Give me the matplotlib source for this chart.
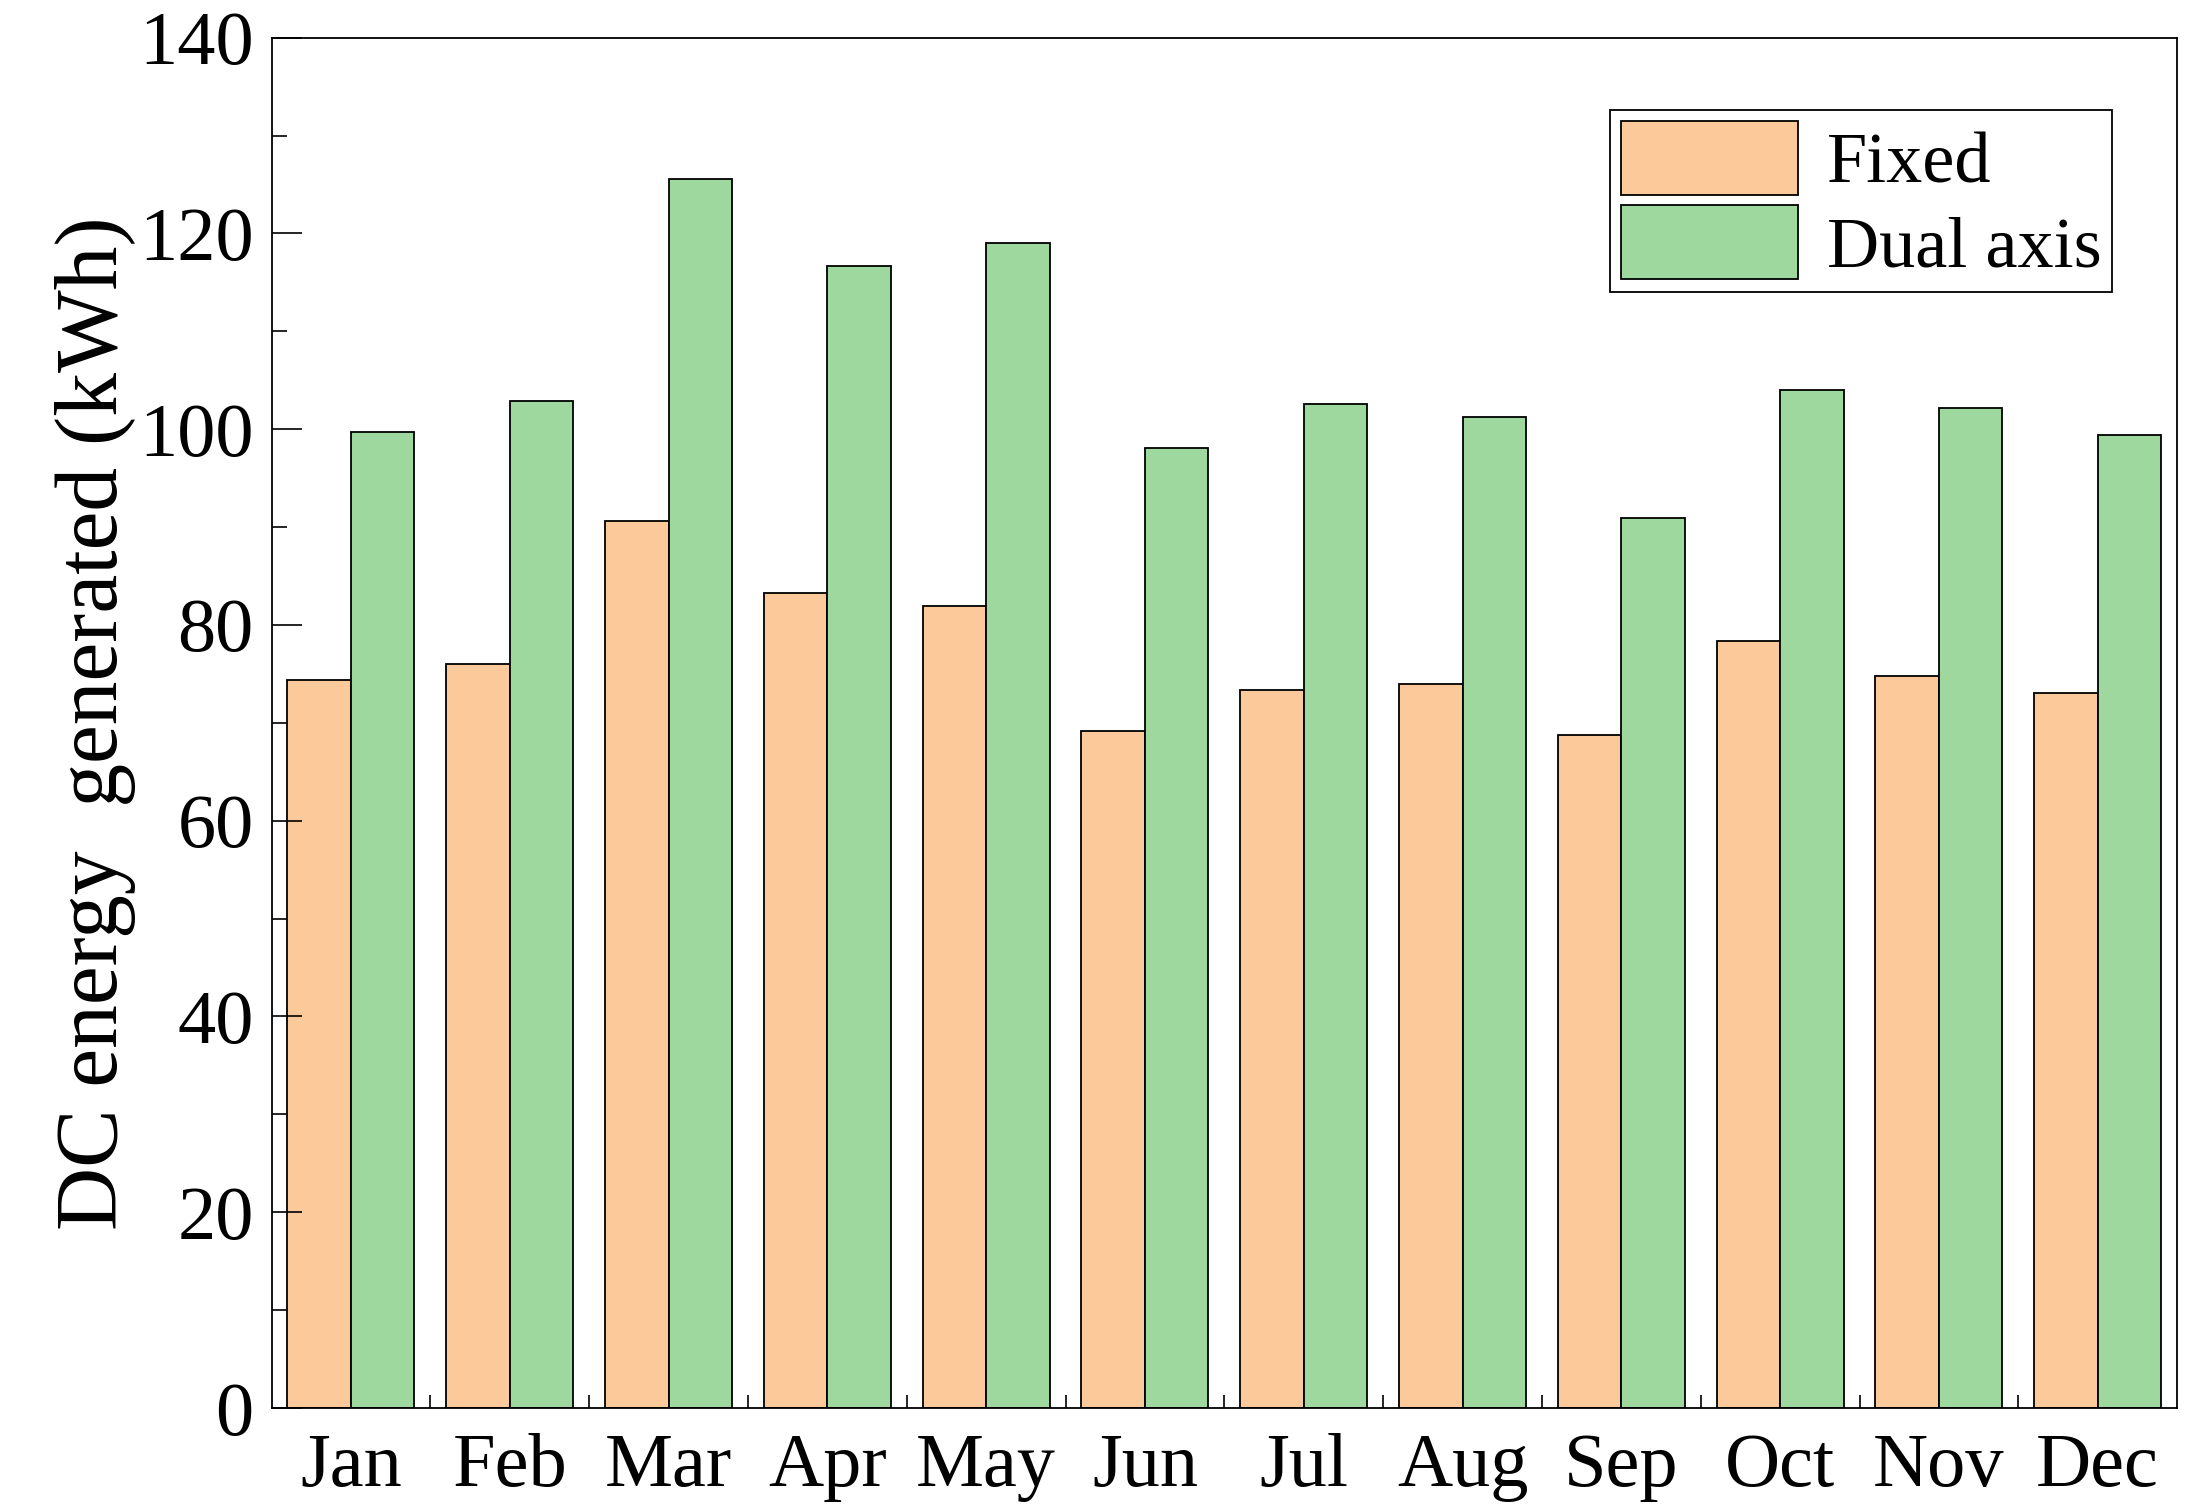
import matplotlib
matplotlib.use("Agg")
import matplotlib.pyplot as plt
import numpy as np
from matplotlib.ticker import MultipleLocator, FixedLocator

months = ["Jan", "Feb", "Mar", "Apr", "May", "Jun", "Jul", "Aug", "Sep", "Oct", "Nov", "Dec"]
fixed = [74.4, 76.0, 90.6, 83.3, 81.9, 69.2, 73.4, 74.0, 68.8, 78.4, 74.8, 73.0]
dual_axis = [99.7, 102.9, 125.6, 116.7, 119.0, 98.1, 102.6, 101.2, 90.9, 104.0, 102.2, 99.4]

plt.rcParams['font.family'] = ['Liberation Serif', 'DejaVu Serif']

fig = plt.figure(figsize=(22.08, 15.08), dpi=100)
ax = fig.add_axes([0.123, 0.0663, 0.863, 0.9087])

x = np.arange(len(months))
w = 0.4
ax.bar(x - w/2, fixed, width=w, color='#FBC99A', edgecolor='black', linewidth=1.3, label='Fixed')
ax.bar(x + w/2, dual_axis, width=w, color='#9ED89E', edgecolor='black', linewidth=1.3, label='Dual axis')

ax.set_xlim(-0.5, len(months) - 0.5)
ax.set_ylim(0, 140)
ax.yaxis.set_major_locator(MultipleLocator(20))
ax.yaxis.set_minor_locator(MultipleLocator(10))
ax.set_xticks(x)
ax.set_xticklabels(months)
ax.xaxis.set_minor_locator(FixedLocator(np.arange(0.5, len(months) - 1, 1.0)))

ax.tick_params(axis='y', which='major', direction='in', length=21.6, width=1.2, labelsize=55, pad=13, right=False)
ax.tick_params(axis='y', which='minor', direction='in', length=10.8, width=1.2, right=False)
ax.tick_params(axis='x', which='major', length=0, labelsize=55, pad=18, top=False)
ax.tick_params(axis='x', which='minor', direction='in', length=9.4, width=1.2, top=False)

for s in ax.spines.values():
    s.set_linewidth(1.3)

ax.set_ylabel("DC energy  generated (kWh)", fontsize=63, labelpad=2)

leg = ax.legend(loc='upper right', bbox_to_anchor=(0.966, 0.947), fontsize=52,
                frameon=True, fancybox=False, edgecolor='black', framealpha=1,
                handlelength=2.45, handleheight=1.2, handletextpad=0.4,
                borderpad=0.15, labelspacing=0.1, borderaxespad=0)
leg.get_frame().set_linewidth(1.3)

fig.savefig("out.png", dpi=100)
